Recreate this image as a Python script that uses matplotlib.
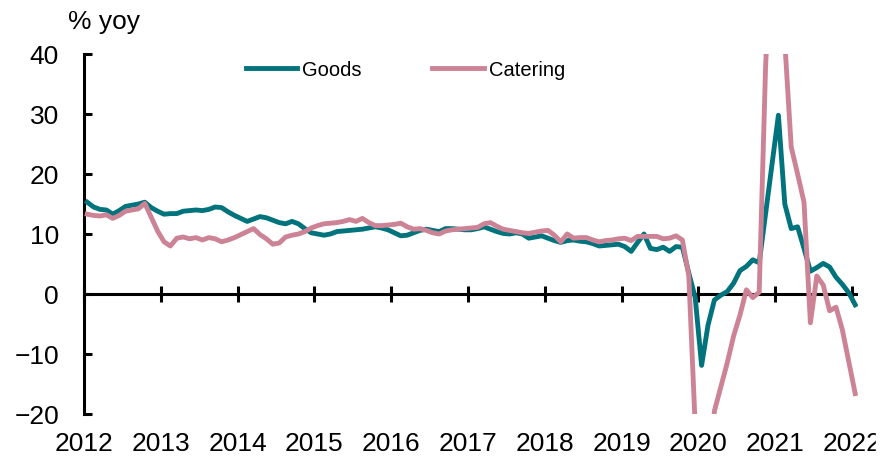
import numpy as np
import matplotlib
matplotlib.use('agg')
import matplotlib.pyplot as plt
from matplotlib.patches import Rectangle

plt.rcParams['font.family'] = ['Liberation Sans', 'DejaVu Sans']

# monthly % yoy, Jan 2012 .. Jan 2022
years = list(range(2012, 2023))
goods = [
    15.3, 14.5, 14.1, 14.0, 13.3, 13.9, 14.6, 14.8, 15.0, 15.3,
    14.4, 13.8, 13.3, 13.4, 13.4, 13.8, 13.9, 14.0, 13.9, 14.1,
    14.5, 14.4, 13.7, 13.1, 12.6, 12.1, 12.5, 12.9, 12.7, 12.3,
    11.9, 11.7, 12.1, 11.7, 10.9, 10.2, 10.0, 9.8, 10.0, 10.4,
    10.5, 10.6, 10.7, 10.8, 11.0, 11.2, 11.0, 10.7, 10.2, 9.7,
    9.8, 10.2, 10.6, 10.8, 10.6, 10.4, 10.9, 10.9, 10.8, 10.7,
    10.7, 10.9, 11.2, 10.8, 10.4, 10.1, 10.0, 10.2, 10.0, 9.3,
    9.5, 9.7, 9.3, 8.9, 8.6, 8.9, 9.0, 8.8, 8.7, 8.4,
    8.0, 8.1, 8.2, 8.3, 7.9, 7.1, 8.6, 10.0, 7.6, 7.4,
    7.8, 7.1, 7.9, 7.8, 3.5, -0.6, -11.9, -5.2, -1.0, -0.2,
    0.4, 1.8, 3.9, 4.6, 5.7, 5.2, 13.4, 21.6, 29.8, 15.0,
    10.9, 11.2, 7.6, 3.8, 4.4, 5.1, 4.5, 2.8, 1.6, 0.2, -1.8,
]
catering = [
    13.3, 13.1, 13.0, 13.2, 12.6, 13.1, 13.8, 14.0, 14.2, 15.1,
    12.8, 10.5, 8.7, 8.0, 9.3, 9.5, 9.2, 9.4, 9.0, 9.4,
    9.2, 8.7, 9.0, 9.4, 9.9, 10.4, 10.9, 9.9, 9.2, 8.3,
    8.5, 9.5, 9.8, 10.0, 10.4, 11.0, 11.4, 11.7, 11.8, 11.9,
    12.1, 12.4, 12.1, 12.6, 11.9, 11.4, 11.4, 11.5, 11.6, 11.8,
    11.2, 10.8, 10.9, 10.6, 10.2, 10.0, 10.5, 10.7, 10.8, 10.9,
    11.0, 11.1, 11.7, 11.9, 11.3, 10.8, 10.6, 10.4, 10.2, 10.1,
    10.3, 10.5, 10.6, 9.8, 8.7, 10.0, 9.3, 9.4, 9.4, 9.0,
    8.7, 8.9, 9.0, 9.2, 9.3, 8.9, 9.6, 9.6, 9.6, 9.6,
    9.2, 9.3, 9.7, 9.0, 3.0, -22.0, -42.0, -32.0, -19.5, -15.5,
    -11.5, -7.0, -3.5, 0.7, -0.6, 0.3, 38.0, 60.0, 75.0, 42.0,
    24.5, 20.0, 15.3, -4.8, 3.0, 1.5, -2.8, -2.2, -6.0, -11.3, -16.6,
]
labels = ['Goods', 'Catering']
colors = ['#00737D', '#CD8396']

x = 2012 + (np.arange(len(goods)) + 0.5) / 12

fig = plt.figure(figsize=(8.91, 4.59), dpi=100)
ax = fig.add_axes([84/891, 1 - 414/459, (858 - 84)/891, (414 - 54)/459])

ax.plot(x, goods, color=colors[0], lw=3.5, label=labels[0], solid_joinstyle='round', zorder=3)
ax.plot(x, catering, color=colors[1], lw=3.5, label=labels[1], solid_joinstyle='round', zorder=4)

ymin, ymax = -20, 40
ax.set_ylim(ymin, ymax)
ax.set_xlim(2012, 2012 + (858 - 84)/76.8)
ax.set_yticks(range(ymin, ymax + 1, 10))
ax.set_xticks(years)
ax.set_xticklabels([str(y) for y in years])

ax.tick_params(axis='x', length=0, pad=13, labelsize=19)
ax.tick_params(axis='y', direction='in', length=6, width=2.2, pad=18, labelsize=19)

for s in ['top', 'right', 'bottom']:
    ax.spines[s].set_visible(False)
ax.spines['left'].set_linewidth(2.2)
ax.spines['left'].set_color('black')

# zero line with year ticks
ax.axhline(0, color='black', lw=2.2, zorder=2)
sec = ax.secondary_xaxis((0 - ymin)/(ymax - ymin))
sec.set_xticks(years)
sec.tick_params(direction='inout', length=12, width=2.2, labelbottom=False, labeltop=False)
for s in sec.spines.values():
    s.set_visible(False)

fig.text(68/891, 1 - 29/459, '% yoy', fontsize=19, ha='left', va='baseline')

ax.legend(loc='center', bbox_to_anchor=(0.455, 1 - 70/459), bbox_transform=fig.transFigure,
          ncol=2, frameon=False, fontsize=14.5, handlelength=2.55, handletextpad=0.25,
          columnspacing=3.5)

# reference image is cut off at the right edge
fig.add_artist(Rectangle((876/891, 0), 1, 1, transform=fig.transFigure, color='white', zorder=10))

fig.savefig('out.png', dpi=100)
